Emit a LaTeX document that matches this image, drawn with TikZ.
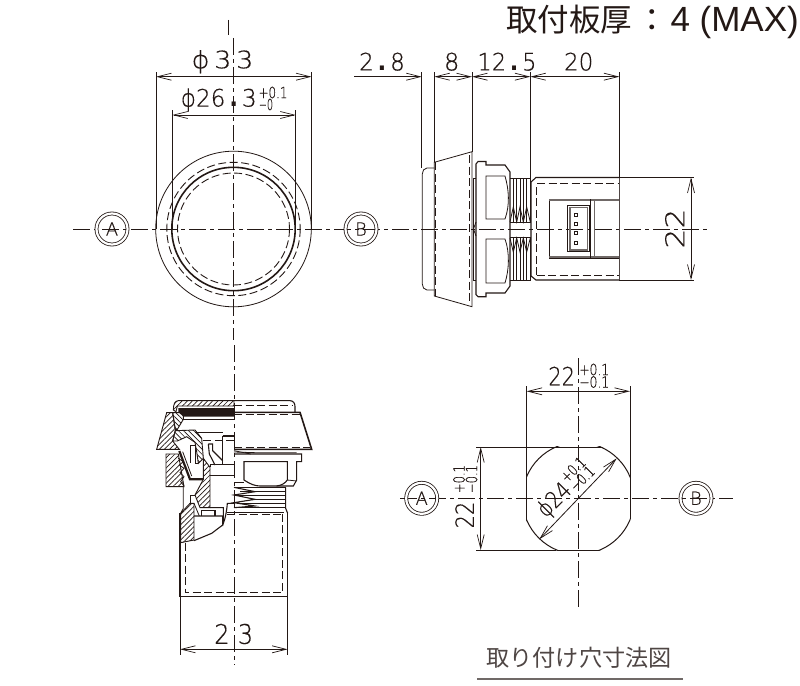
\documentclass[tikz,border=0pt]{standalone}
\usepackage{fontspec}
\usepackage{graphicx}
\usetikzlibrary{arrows.meta,patterns.meta}
\newfontfamily\cad[FakeBold=0.35]{DejaVu Sans ExtraLight}
\newfontfamily\dotfont{DejaVu Sans Bold}
\newfontfamily\cjk{Noto Sans CJK JP}
\newfontfamily\latn{Liberation Sans}
\definecolor{ink}{HTML}{231815}
\newcommand\fitw[2]{\resizebox{#1pt}{\height}{#2}}
\tikzset{
 thin line/.style={line width=.8pt,draw=ink},
 med line/.style={line width=1.1pt,draw=ink},
 heavy line/.style={line width=1.6pt,draw=ink},
 gray line/.style={line width=2pt,draw=ink!65},
 center line/.style={line width=.8pt,draw=ink,dash pattern=on 17pt off 4pt on 4pt off 4pt},
 hidden line/.style={line width=.9pt,draw=ink,dash pattern=on 8pt off 3.5pt},
 dimline/.style={line width=.8pt,draw=ink,{Straight Barb[length=14pt,width=7pt,line width=.7pt]}-{Straight Barb[length=14pt,width=7pt,line width=.7pt]}},
 dimone/.style={line width=.8pt,draw=ink,-{Straight Barb[length=14pt,width=7pt,line width=.7pt]}},
 lab/.style={inner sep=0pt,outer sep=0pt,text=ink,font=\cad\fontsize{24}{24}\selectfont},
 tol/.style={inner sep=0pt,outer sep=0pt,text=ink,font=\cad\fontsize{15.5}{15.5}\selectfont},
 marker/.style={circle,draw=ink,line width=.8pt,double,double distance=2.2pt,minimum size=31pt,inner sep=0pt,text=ink,font=\cad\fontsize{18}{18}\selectfont},
 hatch/.style={pattern={Lines[angle=45,distance=3.6pt,line width=.7pt]},pattern color=ink,line width=.9pt,draw=ink},
 hatchb/.style={pattern={Lines[angle=-45,distance=3.6pt,line width=.7pt]},pattern color=ink,line width=.9pt,draw=ink},
}
\begin{document}
\begin{tikzpicture}[x=1pt,y=-1pt]
\useasboundingbox (0,0) rectangle (800,685);
\fill[white] (0,0) rectangle (800,685);

% ---- title
\node[lab,anchor=west,font=\cjk\fontsize{31.5}{31.5}\selectfont] (title) at (506,22)
  {取付板厚\hspace{5pt}：\hspace{2pt}{\latn\fontsize{35}{35}\selectfont 4 (MAX)}};

% ---- centre lines
\draw[center line] (228,20) -- (228,35);
\draw[center line] (233.5,38) -- (233.5,340);
\draw[center line] (73,229) -- (708,229);
\draw[center line] (234,345) -- (234,665);
\draw[center line] (578.3,358) -- (578.3,608);
\draw[center line] (400,498.3) -- (733,498.3);

\node[marker] (mA1) at (112,229) {A};
\node[marker] (mB1) at (361,229) {B};
\node[marker] (mA2) at (421.7,498.3) {A};
\node[marker] (mB2) at (696,498.3) {B};

% ---- front view
\draw[thin line] (233.5,229) circle (77.8);
\draw[hidden line] (233.5,229) circle (66.7);
\draw[heavy line] (233.5,229) circle (61.7);
\draw[hidden line] (233.5,229) circle (56);
\draw[thin line] (156,72) -- (156,229);
\draw[thin line] (311.5,72) -- (311.5,229);
\draw[thin line] (172.3,110) -- (172.3,229);
\draw[thin line] (295.7,110) -- (295.7,229);
\coordinate (d33a) at (156,76.7); \coordinate (d33b) at (311.5,76.7);
\coordinate (d26a) at (172.3,115); \coordinate (d26b) at (295.7,115);
\draw[dimline] (d33a) -- (d33b);
\draw[dimline] (d26a) -- (d26b);
\node[lab] (t33) at (222.5,61.7) {\fitw{62}{ϕ\,3\,3}};
\node[lab] (t26) at (218.7,100) {\fitw{76}{ϕ26\,{\dotfont .}\,3}};
\node[tol] (t26p) at (273,92.5) {\fitw{29}{+0.1}};
\node[tol] (t26m) at (266,104.5) {\fitw{14}{−0}};

% ---- side view dims
\foreach \xx/\yy in {421.7/168,434.3/162,472/152,530.3/178,619.3/178}
  \draw[thin line] (\xx,72) -- (\xx,\yy);
\coordinate (e0) at (354,76.7); \coordinate (e1) at (421.7,76.7);
\coordinate (e2) at (434.3,76.7); \coordinate (e3) at (472,76.7);
\coordinate (e4) at (530.3,76.7); \coordinate (e5) at (619.3,76.7);
\draw[dimone] (e0) -- (e1);
\draw[dimline] (e2) -- (e3);
\draw[dimline] (e3) -- (e4);
\draw[dimline] (e4) -- (e5);
\node[lab] (t28) at (382,61.7) {\fitw{45.7}{2\,{\dotfont .}\,8}};
\node[lab] (t8) at (451.7,61.7) {\fitw{15.3}{8}};
\node[lab] (t125) at (507,61.7) {\fitw{59}{12\,{\dotfont .}\,5}};
\node[lab] (t20) at (578.7,61.7) {\fitw{29.3}{20}};
\coordinate (h1) at (691,177.5); \coordinate (h2) at (691,280);
\draw[thin line] (619,177.5) -- (694,177.5);
\draw[thin line] (619,280) -- (694,280);
\draw[dimline] (h1) -- (h2);
\node[lab,rotate=90,font=\cad\fontsize{26}{26}\selectfont] (t22s) at (674.7,228.5) {\fitw{40}{22}};

% ---- side view body
\draw[thin line] (434.3,168) -- (427,168) .. controls (424,168) and (422.3,171) .. (422.3,174) -- (422.3,284) .. controls (422.3,287) and (424,290) .. (427,290) -- (434.3,290);
\draw[thin line] (434.3,162.3) -- (472,151.7) -- (472,306.7) -- (434.3,296) -- cycle;
\draw[hidden line] (435.5,162) -- (435.5,296);
\draw[hidden line] (469.3,155) -- (469.3,303);
\draw[thin line] (473.3,178) -- (476,178);
\draw[thin line] (473.3,280) -- (476,280);
\draw[med line] (473.5,178) -- (473.5,280);
\draw[thin line] (476,222) -- (473.5,229) -- (476,236);
% nut
\draw[med line] (476,164) -- (478,161.5) -- (486,161.5) -- (486,165) -- (505,165) -- (510,172) -- (510,286) -- (505,293) -- (486,293) -- (486,296.7) -- (478,296.7) -- (476,294.5) -- cycle;
\draw[thin line] (486,176) -- (505,176) .. controls (509,190) and (510,205) .. (505,219) -- (486,219) -- cycle;
\draw[thin line] (486,239) -- (505,239) .. controls (510,253) and (509,270) .. (505,283) -- (486,283) -- cycle;
% thread
\draw[thin line] (510,178.3) -- (531,178.3);
\draw[thin line] (510,280) -- (531,280);
\draw[thin line] (510,222.7) -- (531,222.7);
\draw[thin line] (510,237.3) -- (531,237.3);
\foreach \xx in {513.3,516.7,520,523.3,526.7,530.3} {
  \draw[thin line] (\xx,178.3) -- (\xx,222.7);
  \draw[thin line] (\xx,237.3) -- (\xx,280);
}
\draw[thin line] (510,222) -- (513.3,207) -- (516.7,222) -- (520,207) -- (523.3,222) -- (526.7,207) -- (530.3,222);
\draw[thin line] (510,238) -- (513.3,252) -- (516.7,238) -- (520,252) -- (523.3,238) -- (526.7,252) -- (530.3,238);
% rear body
\draw[med line] (619.3,177.5) -- (536,177.5) -- (531,182) -- (531,276) -- (536,280) -- (619.3,280);
\draw[heavy line,draw=ink!80] (619.3,177.5) -- (619.3,280);
\draw[hidden line] (536.7,275) -- (536.7,183.3) -- (619,183.3);
\draw[hidden line] (536.7,275) -- (619,275);
\draw[thin line] (619,199.3) -- (549.3,199.3) -- (549.3,258.3) -- (619,258.3);
\draw[gray line] (549.3,200.3) -- (619,200.3);
\draw[gray line] (549.3,257) -- (619,257);
\draw[thin line] (567.7,205.7) rectangle (589.3,251.7);
\draw[gray line,line width=1.2pt] (570,207.5) rectangle (587.5,250);
\draw[thin line] (590,199.3) -- (590,258.3);
\draw[gray line,line width=1.6pt] (594.5,200) -- (594.5,258);
\foreach \yy in {215,224,233.3,243}
  \draw[thin line] (574.5,\yy-1.5) rectangle (577.5,\yy+1.5);

% ---- section view, in a 3x grid
\begin{scope}[shift={(140,380)},x=.33333pt,y=-.33333pt]
 % hatched parts
 \path[hatch] (100,90) .. controls (100,72) and (105,62) .. (115,62) -- (282,62) -- (282,78) -- (112,78) -- (108,95) -- cycle;
 \path[hatch] (80,98) -- (50,208) -- (118,208) -- (98,183) -- (106,150) -- (98,98) -- cycle;
 \path[hatchb] (98,98) -- (130,98) -- (130,118) -- (112,148) -- (106,150) -- cycle;
 \path[hatchb] (106,152) -- (165,150) -- (185,175) -- (190,235) -- (175,250) -- (170,215) -- (165,187) -- (140,170) -- (112,183) -- (98,183) -- cycle;
 \path[hatch] (78,222) -- (115,222) -- (132,320) -- (78,320) -- cycle;
 \path[hatch] (190,235) -- (210,262) -- (210,383) -- (180,383) -- (165,345) -- (190,298) -- cycle;
 \path[hatch] (122,400) -- (150,370) -- (162,370) -- (162,480) -- (122,488) -- cycle;
 % dark lens
 \fill[ink] (115,84) -- (282,84) -- (282,110) -- (130,110) -- (115,96) -- cycle;
 \draw[thin line] (130,118) -- (282,118);
 % cap and bezel right half
 \draw[med line] (282,62) -- (450,62) .. controls (460,62) and (465,70) .. (465,80) -- (465,97);
 \draw[hidden line] (282,76) -- (460,76);
 \draw[heavy line] (282,97) -- (480,97) -- (515,208) -- (282,208);
 \draw[hidden line] (282,102) -- (480,102);
 \draw[hidden line] (282,201) -- (510,201);
 % interior
 \draw[hidden line] (190,180) -- (282,180);
 \draw[thin line] (165,158) -- (248,158);
 \draw[med line] (248,168) -- (282,168);
 \draw[med line] (248,168) -- (248,253);
 \draw[med line] (205,192) -- (218,192) -- (218,212) -- (248,242);
 \draw[med line] (205,192) -- (208,222) -- (225,255);
 \draw[med line] (210,253) -- (282,253);
 \draw[med line] (210,287) -- (282,287);
 \draw[med line] (212,253) -- (212,262);
 \draw[line width=2.2pt,draw=ink] (118,213) -- (150,298) -- (190,298);
 \draw[thin line] (128,215) -- (155,288);
 \draw[thin line] (152,195) -- (152,250);
 \draw[thin line] (165,195) -- (165,250) -- (175,250);
 \draw[thin line] (152,195) -- (165,195);
 \draw[thin line] (130,320) -- (130,385) -- (122,400);
 \draw[thin line] (150,345) -- (165,345);
 \draw[thin line] (150,345) -- (150,370);
 % threaded rim of the nut
 \draw[thin line] (115,235) -- (130,245) -- (118,255) -- (132,265) -- (120,278) -- (132,290) -- (122,305) -- (132,318);
 % lower interior
 \draw[med line] (162,408) -- (248,408) -- (248,435) -- (215,460) -- (162,482);
 \draw[med line] (185,408) -- (185,392) -- (225,392) -- (225,408);
 \draw[med line] (210,383) -- (250,383) -- (250,430) .. controls (256,415) and (260,395) .. (262,370) -- (282,370);
 \draw[thin line] (162,370) -- (178,408);
 % right upper flange and hexagon
 \draw[med line] (282,222) -- (485,222) -- (485,245) -- (470,245) -- (470,300) -- (460,318) -- (410,318);
 \draw[thin line] (282,212) -- (332,222);
 \draw[thin line] (282,216) -- (345,218) -- (470,218);
 \draw[med line] (442,245) -- (312,245) -- (312,300) .. controls (330,312) and (345,318) .. (360,318) -- (410,318) .. controls (425,316) and (435,310) .. (442,300) -- cycle;
 \draw[thin line] (442,300) -- (470,303);
 \draw[thin line] (282,306) -- (312,306);
 % right thread
 \draw[heavy line] (282,322) -- (437,322);
 \draw[heavy line] (282,383) -- (437,383);
 \draw[med line] (282,322) -- (345,335) -- (282,345) -- (345,358) -- (282,368) -- (345,378) -- (282,383);
 \draw[thin line] (300,335) -- (437,335);
 \draw[thin line] (290,345) -- (437,345);
 \draw[thin line] (340,358) -- (437,358);
 \draw[thin line] (290,370) -- (437,370);
 \draw[med line] (437,322) -- (437,385) -- (443,400);
 % rear body
 \draw[med line] (262,397) -- (432,397);
 \draw[hidden line] (262,402) -- (428,402);
 \draw[med line] (120,400) -- (120,650) -- (443,650) -- (443,400);
 \draw[hidden line] (135,488) -- (135,638) -- (428,638) -- (428,402);
\end{scope}
% dim 23
\draw[thin line] (180,596) -- (180,655);
\draw[thin line] (287.6,596) -- (287.6,655);
\coordinate (w1) at (180,649.3); \coordinate (w2) at (287.6,649.3);
\draw[dimline] (w1) -- (w2);
\node[lab,font=\cad\fontsize{27}{27}\selectfont] (t23) at (233.7,634) {\fitw{39}{2\,\,3}};

% ---- mounting hole
\begin{scope}
 \clip (526,446.4) rectangle (630.6,550.6);
 \draw[thin line,line width=1pt] (578.3,498.3) circle (56);
\end{scope}
\begin{scope}
 \clip (578.3,498.3) circle (56.4);
 \draw[thin line,line width=1pt] (526.7,447) rectangle (630,550);
\end{scope}
\draw[thin line] (526.7,386) -- (526.7,478);
\draw[thin line] (630,386) -- (630,478);
\draw[thin line] (476,447) -- (556,447);
\draw[thin line] (476,550) -- (556,550);
\coordinate (k1) at (526.7,391.3); \coordinate (k2) at (630,391.3);
\draw[dimline] (k1) -- (k2);
\coordinate (l1) at (480.7,447); \coordinate (l2) at (480.7,550);
\draw[dimline] (l1) -- (l2);
\coordinate (m1) at (539.3,539.3); \coordinate (m2) at (616.7,458.3);
\draw[dimline] (m1) -- (m2);
\node[lab,font=\cad\fontsize{25}{25}\selectfont] (t22a) at (561.7,376) {\fitw{26.7}{22}};
\node[tol] (t22ap) at (594.2,369.5) {\fitw{30}{+0.1}};
\node[tol] (t22am) at (594.2,382) {\fitw{30}{−0.1}};
\node[lab,rotate=90,font=\cad\fontsize{25}{25}\selectfont] (t22b) at (464.5,515) {\fitw{26.7}{22}};
\node[tol,rotate=90] (t22bp) at (459,479) {\fitw{28}{+0.1}};
\node[tol,rotate=90] (t22bm) at (471.5,479) {\fitw{28}{−0.1}};
\node[lab,rotate=45,font=\cad\fontsize{23}{23}\selectfont] (t24) at (555,500.7) {\fitw{38}{ϕ24}};
\node[tol,rotate=45] (t24p) at (573,469.5) {\fitw{28}{+0.1}};
\node[tol,rotate=45] (t24m) at (582,478.5) {\fitw{28}{−0.1}};

% ---- caption
\node[inner sep=0pt,text=ink!80,font=\cjk\fontsize{23}{23}\selectfont] (cap) at (579,658) {\fitw{185}{取り付け穴寸法図}};
\draw[line width=1.3pt,draw=ink!65] (477,679) -- (683,679);
\end{tikzpicture}
\end{document}
